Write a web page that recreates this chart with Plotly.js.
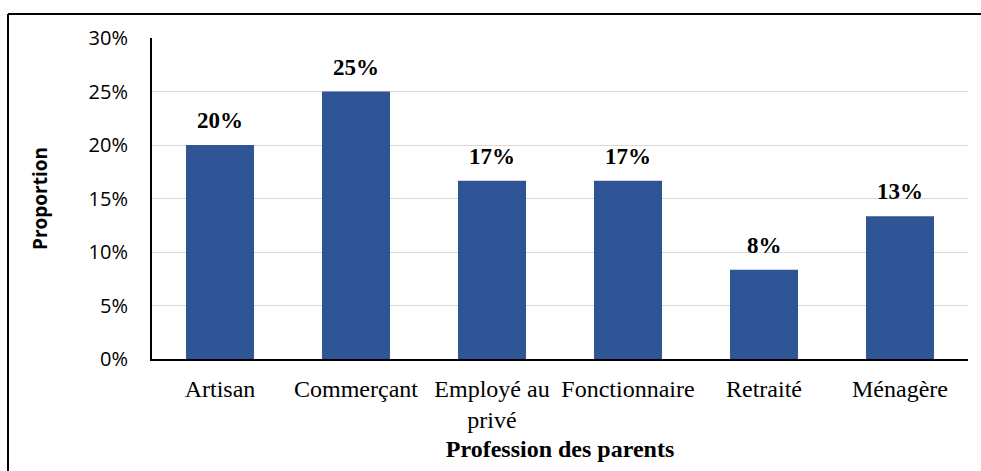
<!DOCTYPE html>
<html>
<head>
<meta charset="utf-8">
<script src="https://cdn.plot.ly/plotly-3.0.1.min.js"></script>
<style>html,body{margin:0;padding:0;background:#fff;}#chart{width:981px;height:471px;}</style>
</head>
<body>
<div id="chart"></div>
<script>
const categories = ["Artisan", "Commerçant", "Employé au<br>privé", "Fonctionnaire", "Retraité", "Ménagère"];
const proportions = [0.20, 0.25, 0.1667, 0.1667, 0.0833, 0.1333];
const valueLabels = ["20%", "25%", "17%", "17%", "8%", "13%"];
const yTickValues = [0, 0.05, 0.10, 0.15, 0.20, 0.25, 0.30];
const yTickLabels = ["0%", "5%", "10%", "15%", "20%", "25%", "30%"];

const W = 981, H = 471;
const m = {l: 152, r: 13, t: 38, b: 112};
const pw = W - m.l - m.r, ph = H - m.t - m.b;
const px = x => (x - m.l) / pw;
const py = y => (H - m.b - y) / ph;

const trace = {
  type: "bar",
  x: categories,
  y: proportions,
  marker: {color: "#2f5597"},
  hoverinfo: "none"
};

const annotations = categories.map((c, i) => ({
  x: c, y: proportions[i], xref: "x", yref: "y",
  text: "<b>" + valueLabels[i] + "</b>",
  showarrow: false, yanchor: "bottom", yshift: 10,
  font: {family: "Liberation Serif", size: 23, color: "#000"}
}));

const layout = {
  width: W, height: H,
  margin: m,
  paper_bgcolor: "#fff", plot_bgcolor: "#fff",
  bargap: 0.5,
  showlegend: false,
  annotations: annotations,
  xaxis: {
    type: "category",
    showline: true, linecolor: "#000", linewidth: 2,
    ticks: "", showgrid: false,
    ticklabelstandoff: 7,
    tickfont: {family: "Liberation Serif", size: 24, color: "#000"},
    title: {text: "<b>Profession des parents</b>", font: {family: "Liberation Serif", size: 24, color: "#000"}, standoff: 8}
  },
  yaxis: {
    range: [0, 0.30],
    tickvals: yTickValues, ticktext: yTickLabels,
    showline: true, linecolor: "#000", linewidth: 2,
    showgrid: true, gridcolor: "#d9d9d9", gridwidth: 1,
    zeroline: false,
    ticks: "", ticklabelstandoff: 18,
    tickfont: {family: "Open Sans", size: 20, color: "#000"},
    title: {text: "<b>Proportion</b>", font: {family: "Open Sans", size: 19, color: "#000"}, standoff: 36}
  },
  shapes: [
    {type: "line", xref: "paper", yref: "paper", x0: px(8), x1: px(981), y0: py(14), y1: py(14), line: {color: "#000", width: 2}},
    {type: "line", xref: "paper", yref: "paper", x0: px(8), x1: px(8), y0: py(14), y1: py(475), line: {color: "#000", width: 2}}
  ]
};

Plotly.newPlot("chart", [trace], layout, {displayModeBar: false, staticPlot: true});
</script>
</body>
</html>
